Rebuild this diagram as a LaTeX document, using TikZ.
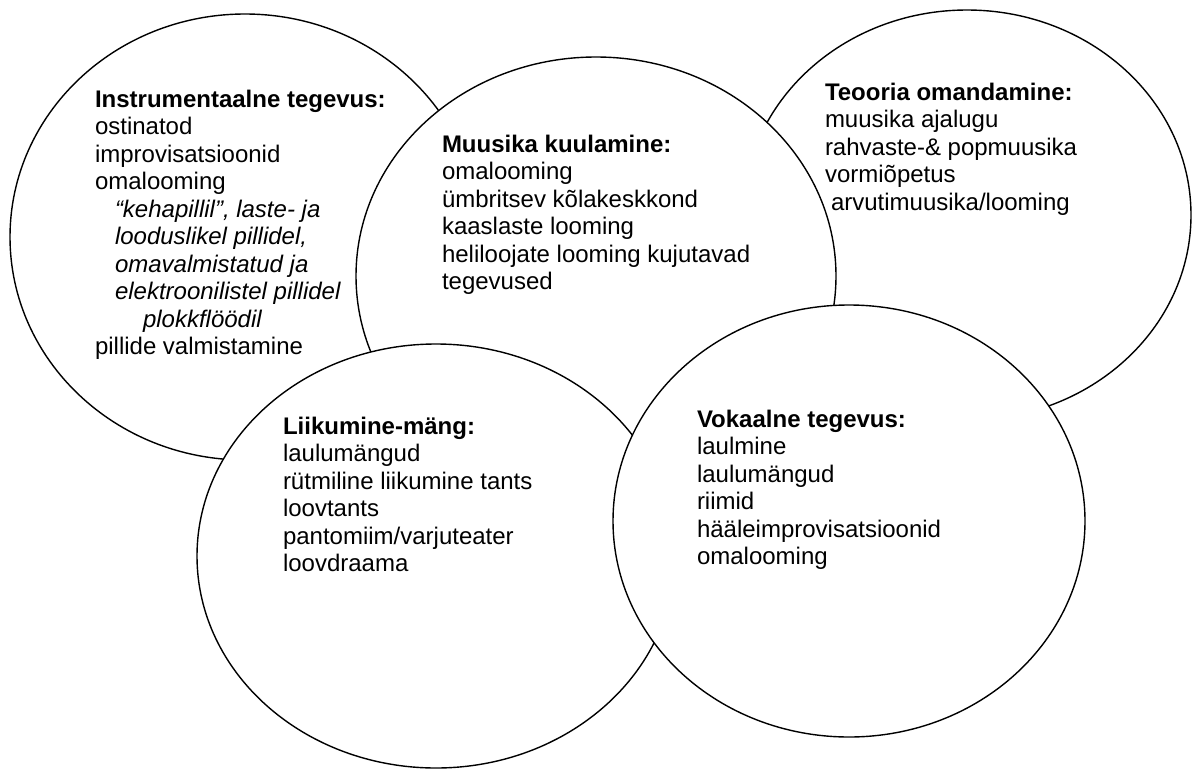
\documentclass[tikz,border=0pt]{standalone}
\usepackage{fontspec}
\setmainfont{Liberation Sans}
\usetikzlibrary{shapes.geometric}
\begin{document}
\begin{tikzpicture}[x=1pt,y=-1pt]
\tikzset{
  blob/.style={ellipse, draw=black, fill=white, line width=1.4pt, inner sep=0pt, outer sep=0pt},
  txt/.style={anchor=base west, inner sep=0pt, outer sep=0pt, font=\fontsize{24}{27.5}\selectfont},
  hd/.style={txt, font=\fontsize{24}{27.5}\selectfont\bfseries},
  itl/.style={txt, font=\fontsize{24}{27.5}\selectfont\itshape}
}
\useasboundingbox[fill=white] (0,0) rectangle (1192,769);
% ellipses, bottom to top
\node[blob, minimum width=470pt, minimum height=446pt] (instr) at (245,237) {};
\node[blob, minimum width=448pt, minimum height=410pt] (teo) at (967,215) {};
\node[blob, minimum width=480pt, minimum height=438pt] (kuul) at (596,276) {};
\node[blob, minimum width=478pt, minimum height=424pt] (liik) at (436,556) {};
\node[blob, minimum width=472pt, minimum height=432pt] (vok) at (849,521) {};
% Instrumentaalne tegevus
\node[hd] (i0) at (95,107) {Instrumentaalne tegevus:};
\node[txt] (i1) at (95,134.5) {ostinatod};
\node[txt] (i2) at (95,162) {improvisatsioonid};
\node[txt] (i3) at (95,189.5) {omalooming};
\node[itl] (i4) at (115,217) {“kehapillil”, laste- ja};
\node[itl] (i5) at (115,244.5) {looduslikel pillidel,};
\node[itl] (i6) at (115,272) {omavalmistatud ja};
\node[itl] (i7) at (115,299.5) {elektroonilistel pillidel};
\node[itl] (i8) at (143,327) {plokkflöödil};
\node[txt] (i9) at (95,354.5) {pillide valmistamine};
% Muusika kuulamine
\node[hd] (k0) at (442,152) {Muusika kuulamine:};
\node[txt] (k1) at (442,179.5) {omalooming};
\node[txt] (k2) at (442,207) {ümbritsev kõlakeskkond};
\node[txt] (k3) at (442,234.5) {kaaslaste looming};
\node[txt] (k4) at (442,262) {heliloojate looming kujutavad};
\node[txt] (k5) at (442,289.5) {tegevused};
% Teooria omandamine
\node[hd] (t0) at (825,100) {Teooria omandamine:};
\node[txt] (t1) at (825,127.5) {muusika ajalugu};
\node[txt] (t2) at (825,155) {rahvaste-\& popmuusika};
\node[txt] (t3) at (825,182.5) {vormiõpetus};
\node[txt] (t4) at (831,210) {arvutimuusika/looming};
% Liikumine-mäng
\node[hd] (l0) at (283,434) {Liikumine-mäng:};
\node[txt] (l1) at (283,461.5) {laulumängud};
\node[txt] (l2) at (283,489) {rütmiline liikumine tants};
\node[txt] (l3) at (283,516.5) {loovtants};
\node[txt] (l4) at (283,544) {pantomiim/varjuteater};
\node[txt] (l5) at (283,571.5) {loovdraama};
% Vokaalne tegevus
\node[hd] (v0) at (697,427) {Vokaalne tegevus:};
\node[txt] (v1) at (697,454.5) {laulmine};
\node[txt] (v2) at (697,482) {laulumängud};
\node[txt] (v3) at (697,509.5) {riimid};
\node[txt] (v4) at (697,537) {hääleimprovisatsioonid};
\node[txt] (v5) at (697,564.5) {omalooming};
\end{tikzpicture}
\end{document}
